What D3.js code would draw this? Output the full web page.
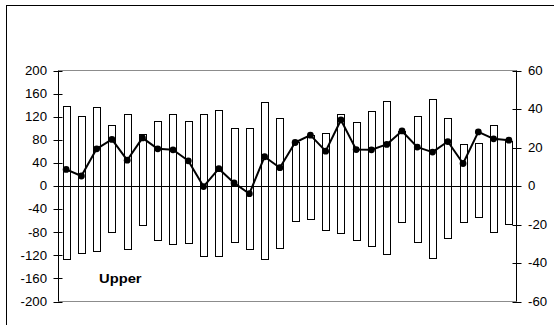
<!DOCTYPE html>
<html>
<head>
<meta charset="utf-8">
<script src="https://cdn.jsdelivr.net/npm/d3@7/dist/d3.min.js"></script>
<style>
  html, body { margin: 0; padding: 0; background: #fff; }
  svg { display: block; }
  text { font-family: "Liberation Sans", Arial, sans-serif; fill: #000; }
</style>
</head>
<body>
<svg id="chart" width="554" height="325"></svg>
<script>
// Categories along the horizontal axis (unlabelled)
const categories = ["1","2","3","4","5","6","7","8","9","10",
                    "11","12","13","14","15","16","17","18","19","20",
                    "21","22","23","24","25","26","27","28","29","30"];

// Floating bars: upper and lower ends (left axis)
const barHigh = [138, 122, 136, 105, 124, 90, 113, 124, 113, 124,
                 132, 101, 101, 146, 117, 77, 88, 92, 125, 111,
                 130, 148, 96, 122, 150, 117, 72, 74, 106, 78];
const barLow  = [-126, -116, -113, -79, -109, -68, -93, -101, -99, -121,
                 -121, -97, -109, -126, -107, -60, -57, -76, -82, -93,
                 -104, -117, -63, -97, -125, -90, -63, -53, -80, -66];

// Line series (right axis)
const lineValues = [8.6, 5.2, 19.3, 24.2, 13.4, 25.0, 19.3, 18.8, 13.1, -0.3,
                     9.0, 1.6, -4.0, 15.2, 9.5, 22.6, 26.4, 18.1, 34.3, 18.9,
                     18.8, 21.6, 28.6, 20.2, 17.6, 23.1, 11.7, 28.1, 24.5, 23.8];

// Axis tick labels
const leftTicks  = [-200, -160, -120, -80, -40, 0, 40, 80, 120, 160, 200];
const rightTicks = [-60, -40, -20, 0, 20, 40, 60];
const seriesLabel = "Upper";

const svg = d3.select("#chart");
const X0 = 58.5, X1 = 516.5, Y0 = 70.5, Y1 = 301.5;
const tickScaleX = 1.1, labelScaleX = 1.18;

// Outer frame
svg.append("rect")
  .attr("x", 6.5).attr("y", 5.5)
  .attr("width", 600).attr("height", 400)
  .attr("fill", "none").attr("stroke", "#000").attr("stroke-width", 1);

const x = d3.scaleBand().domain(categories).range([X0, X1])
  .paddingInner(0.54).paddingOuter(0.27);
const yL = d3.scaleLinear().domain([-200, 200]).range([Y1, Y0]);
const yR = d3.scaleLinear().domain([-60, 60]).range([Y1, Y0]);

// Plot area top and bottom edges
svg.append("line").attr("x1", X0).attr("x2", X1).attr("y1", Y0).attr("y2", Y0)
  .attr("stroke", "#8c8c8c");
svg.append("line").attr("x1", X0).attr("x2", X1).attr("y1", Y1).attr("y2", Y1)
  .attr("stroke", "#8c8c8c");

// Bars
svg.append("g").selectAll("rect")
  .data(categories)
  .join("rect")
  .attr("x", d => Math.round(x(d)) + 0.5)
  .attr("y", (d, i) => Math.round(yL(barHigh[i])) + 0.5)
  .attr("width", Math.round(x.bandwidth()))
  .attr("height", (d, i) => Math.round(yL(barLow[i])) - Math.round(yL(barHigh[i])))
  .attr("fill", "#fff")
  .attr("stroke", "#000")
  .attr("stroke-width", 1);

// Zero line
svg.append("line")
  .attr("x1", X0).attr("x2", X1)
  .attr("y1", Math.round(yL(0)) + 0.5).attr("y2", Math.round(yL(0)) + 0.5)
  .attr("stroke", "#000");

// Left axis
const gL = svg.append("g");
gL.append("line").attr("x1", X0).attr("x2", X0).attr("y1", Y0).attr("y2", Y1)
  .attr("stroke", "#000");
gL.selectAll("line.tick").data(leftTicks).join("line")
  .attr("class", "tick")
  .attr("x1", X0 - 5).attr("x2", X0 + 4)
  .attr("y1", d => Math.round(yL(d)) + 0.5).attr("y2", d => Math.round(yL(d)) + 0.5)
  .attr("stroke", "#000");
gL.selectAll("text").data(leftTicks).join("text")
  .attr("transform", d => `translate(47,${yL(d) + 4.3}) scale(${tickScaleX},1)`)
  .attr("text-anchor", "end")
  .attr("font-size", "12px")
  .text(d => d);

// Right axis
const gR = svg.append("g");
gR.append("line").attr("x1", X1).attr("x2", X1).attr("y1", Y0).attr("y2", Y1)
  .attr("stroke", "#000");
gR.selectAll("line.tick").data(rightTicks).join("line")
  .attr("class", "tick")
  .attr("x1", X1 - 4).attr("x2", X1 + 5)
  .attr("y1", d => Math.round(yR(d)) + 0.5).attr("y2", d => Math.round(yR(d)) + 0.5)
  .attr("stroke", "#000");
gR.selectAll("text").data(rightTicks).join("text")
  .attr("transform", d => `translate(528,${yR(d) + 4.3}) scale(${tickScaleX},1)`)
  .attr("text-anchor", "start")
  .attr("font-size", "12px")
  .text(d => d);

// Line series with markers
const cx = d => x(d) + x.bandwidth() / 2;
const line = d3.line()
  .x(d => cx(d))
  .y((d, i) => yR(lineValues[i]));
svg.append("path")
  .datum(categories)
  .attr("d", line)
  .attr("fill", "none")
  .attr("stroke", "#000")
  .attr("stroke-width", 2)
  .attr("stroke-linejoin", "round");
svg.append("g").selectAll("circle")
  .data(categories)
  .join("circle")
  .attr("cx", d => cx(d))
  .attr("cy", (d, i) => yR(lineValues[i]))
  .attr("r", 3.4)
  .attr("fill", "#000");

// Series label
svg.append("text")
  .attr("transform", `translate(99,283) scale(${labelScaleX},1)`)
  .attr("font-size", "12.5px")
  .attr("font-weight", "bold")
  .text(seriesLabel);
</script>
</body>
</html>
